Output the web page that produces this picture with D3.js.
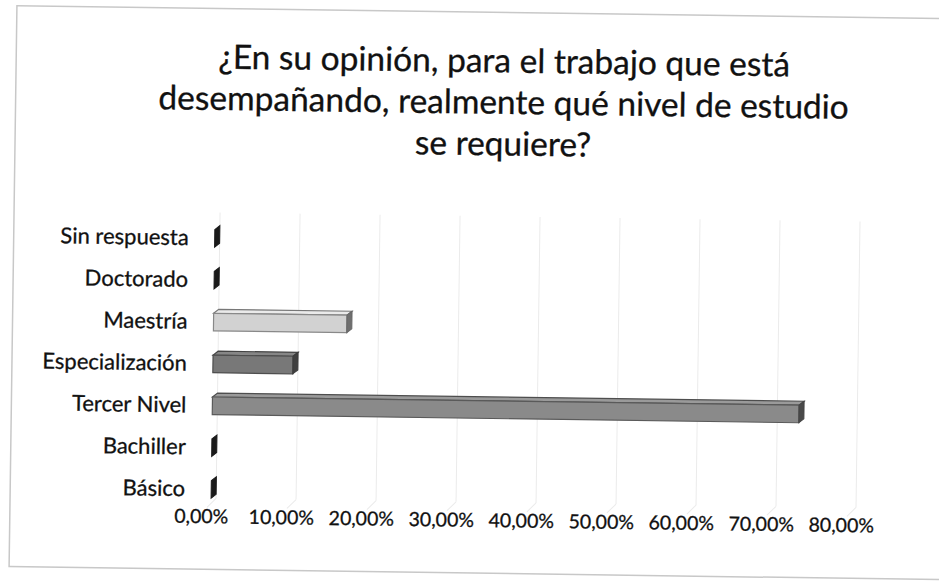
<!DOCTYPE html>
<html>
<head>
<meta charset="utf-8">
<script src="https://cdn.jsdelivr.net/npm/d3@7/dist/d3.min.js"></script>
<style>
  html, body { margin: 0; padding: 0; background: #ffffff; }
  svg { display: block; }
  text { font-family: Lato, "Open Sans", "Noto Sans", sans-serif; }
</style>
</head>
<body>
<svg id="chart" width="939" height="581"></svg>
<script>
// Survey answers: share of respondents per required level of study
const categories = ["Sin respuesta", "Doctorado", "Maestría", "Especialización", "Tercer Nivel", "Bachiller", "Básico"];
const values = [0, 0, 16.67, 10.00, 73.33, 0, 0];
const barShades = ["#1a1a1a", "#1a1a1a", "#d2d2d2", "#787878", "#8a8a8a", "#1a1a1a", "#1a1a1a"];
const tickValues = [0, 10, 20, 30, 40, 50, 60, 70, 80];
const titleLines = ["¿En su opinión, para el trabajo que está", "desempañando, realmente qué nivel de estudio", "se requiere?"];

const W = 939, H = 581;
const svg = d3.select("#chart");

// whole sheet sits slightly askew
const root = svg.append("g").attr("transform", `rotate(0.8 ${W / 2} ${H / 2})`);

// chart frame
root.append("rect")
  .attr("x", 13).attr("y", 12).attr("width", 980).attr("height", 561)
  .attr("fill", "#ffffff").attr("stroke", "#c8c8c8").attr("stroke-width", 1.5);

// title, one text element per line
root.append("g")
  .selectAll("text")
  .data(titleLines)
  .join("text")
  .attr("text-anchor", "middle")
  .attr("fill", "#111")
  .attr("stroke", "#111").attr("stroke-width", 0.3)
  .style("font-size", "33.5px")
  .attr("x", 501)
  .attr("y", (d, i) => 72 + i * 41.5)
  .text(d => d);

const x = d3.scaleLinear().domain([0, 80]).range([214, 854]);
const y = d3.scaleBand().domain(categories).range([221, 514]).paddingInner(0.58).paddingOuter(0.29);

// depth offset of the 3D bars
const dx = 5, dy = -4;

// back wall gridlines
const grid = root.append("g");
grid.selectAll("line.wall")
  .data(tickValues)
  .join("line")
  .attr("class", "wall")
  .attr("x1", d => x(d) + dx).attr("x2", d => x(d) + dx)
  .attr("y1", 216).attr("y2", 502)
  .attr("stroke", "#ebebeb").attr("stroke-width", 1);
// floor lines
grid.selectAll("line.floor")
  .data(tickValues)
  .join("line")
  .attr("class", "floor")
  .attr("x1", d => x(d) + dx).attr("x2", d => x(d) - 4)
  .attr("y1", 502).attr("y2", 511)
  .attr("stroke", "#ebebeb").attr("stroke-width", 1);

// bars
const bars = root.append("g");
categories.forEach((c, i) => {
  const v = values[i];
  const x0 = x(0), x1 = x(v);
  const y0 = y(c), h = y.bandwidth();
  const shade = d3.color(barShades[i]);
  const g = bars.append("g");
  if (v > 0) {
    // top face
    g.append("path")
      .attr("d", `M${x0},${y0} L${x0 + dx},${y0 + dy} L${x1 + dx},${y0 + dy} L${x1},${y0} Z`)
      .attr("fill", shade.brighter(0.3)).attr("stroke", shade.darker(1.6)).attr("stroke-width", 1.2);
    // front face
    g.append("rect")
      .attr("x", x0).attr("y", y0).attr("width", x1 - x0).attr("height", h)
      .attr("fill", shade.formatHex()).attr("stroke", shade.darker(1.2)).attr("stroke-width", 1.2);
  }
  // end face
  g.append("path")
    .attr("d", `M${x1},${y0} L${x1 + dx},${y0 + dy} L${x1 + dx},${y0 + dy + h} L${x1},${y0 + h} Z`)
    .attr("fill", v > 0 ? shade.darker(1.8) : shade.formatHex())
    .attr("stroke", v > 0 ? shade.darker(2) : shade.formatHex()).attr("stroke-width", 1);
});

// category axis
const yAxis = root.append("g")
  .attr("transform", "translate(200,0)")
  .call(d3.axisLeft(y).tickSize(0).tickPadding(12));
yAxis.select(".domain").remove();
yAxis.selectAll("text")
  .attr("fill", "#111")
  .attr("stroke", "#111").attr("stroke-width", 0.3)
  .style("font-size", "22px")
  .style("font-family", "Lato, 'Open Sans', sans-serif");

// value axis
const xAxis = root.append("g")
  .attr("transform", "translate(-10,505)")
  .call(d3.axisBottom(x).tickValues(tickValues).tickSize(0).tickPadding(8)
    .tickFormat(d => d3.format(".2f")(d).replace(".", ",") + "%"));
xAxis.select(".domain").remove();
xAxis.selectAll("text")
  .attr("fill", "#111")
  .attr("stroke", "#111").attr("stroke-width", 0.3)
  .style("font-size", "19.5px")
  .style("font-family", "Lato, 'Open Sans', sans-serif");
</script>
</body>
</html>
